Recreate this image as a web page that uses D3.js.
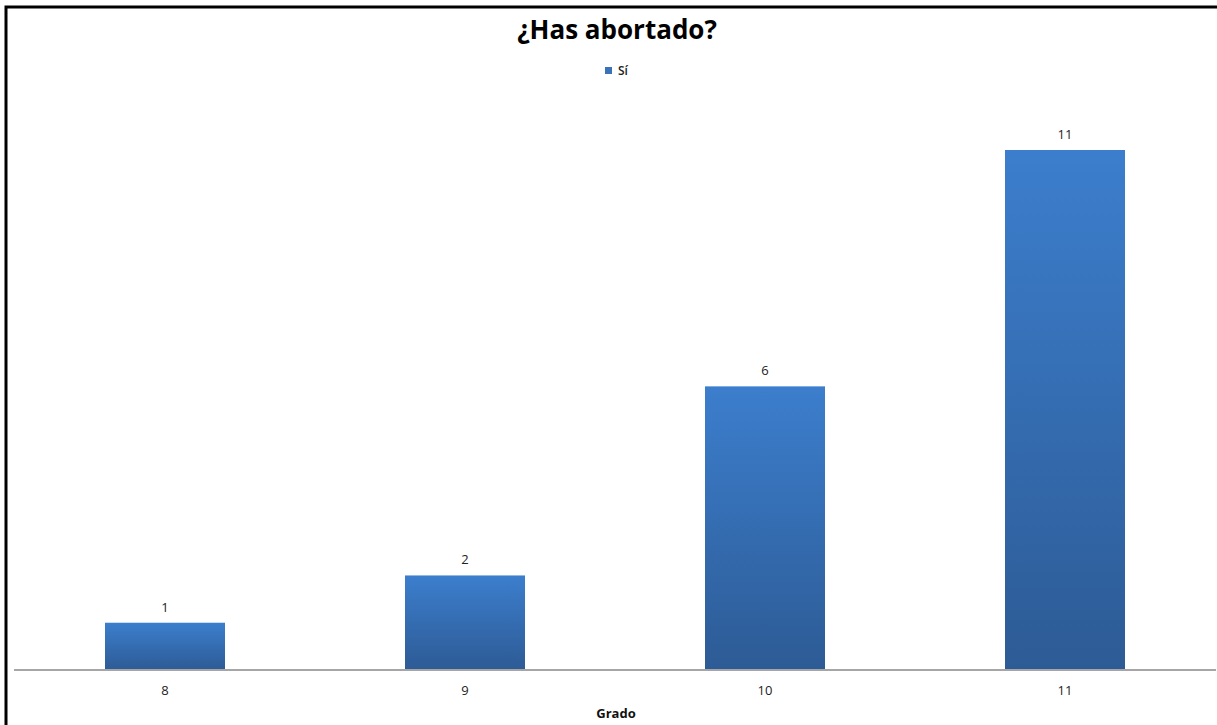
<!DOCTYPE html>
<html><head><meta charset="utf-8">
<script src="https://cdn.jsdelivr.net/npm/d3@7"></script>
<style>body{margin:0;background:#fff;}svg{display:block;}</style>
</head><body>
<script>
const categories = ["8", "9", "10", "11"];
const values = [1, 2, 6, 11];
const seriesName = "Sí";
const title = "¿Has abortado?";
const xTitle = "Grado";

const W = 1217, H = 725;
const svg = d3.select("body").append("svg").attr("width", W).attr("height", H);
const font = "'Open Sans', 'Noto Sans', sans-serif";

const defs = svg.append("defs");
const grad = defs.append("linearGradient").attr("id", "barGrad").attr("x1", 0).attr("y1", 0).attr("x2", 0).attr("y2", 1);
grad.append("stop").attr("offset", "0%").attr("stop-color", "#3c7ecd");
grad.append("stop").attr("offset", "100%").attr("stop-color", "#2d5b95");

// border
svg.append("path").attr("d", `M6,${H} L6,7 L${W},7`).attr("fill", "none").attr("stroke", "#000").attr("stroke-width", 3);

const x = d3.scaleBand().domain(categories).range([15, 1215]).paddingInner(0.6).paddingOuter(0.3);
const y = d3.scaleLinear().domain([0, 11]).range([670, 150]);

svg.selectAll("rect.bar").data(values).join("rect").attr("class", "bar")
  .attr("x", (d, i) => x(categories[i]))
  .attr("width", x.bandwidth())
  .attr("y", d => y(d))
  .attr("height", d => y(0) - y(d))
  .attr("fill", "url(#barGrad)");

svg.selectAll("text.val").data(values).join("text").attr("class", "val")
  .attr("x", (d, i) => x(categories[i]) + x.bandwidth() / 2)
  .attr("y", d => y(d) - 11)
  .attr("text-anchor", "middle")
  .attr("font-family", font).attr("font-size", 13).attr("fill", "#222")
  .text(d => d);

const xAxis = d3.axisBottom(x).tickSize(0).tickPadding(16);
const gx = svg.append("g").attr("transform", `translate(0,${y(0)})`).call(xAxis);
gx.select(".domain").attr("stroke", "#a6a6a6").attr("stroke-width", 2).attr("d", "M14,0H1216");
gx.selectAll("text").attr("font-family", font).attr("font-size", 13).attr("fill", "#222");

svg.append("text").attr("x", 616).attr("y", 718).attr("text-anchor", "middle")
  .attr("font-family", font).attr("font-weight", "bold").attr("font-size", 13).attr("fill", "#111").text(xTitle);

svg.append("text").attr("x", 617).attr("y", 39).attr("text-anchor", "middle")
  .attr("font-family", font).attr("font-weight", "bold").attr("font-size", 26).attr("fill", "#000").text(title);

const lg = svg.append("g");
lg.append("rect").attr("x", 605).attr("y", 67).attr("width", 7).attr("height", 7).attr("fill", "#3b72b8");
lg.append("text").attr("x", 618).attr("y", 75).attr("font-family", font).attr("font-weight", "600").attr("font-size", 12).attr("fill", "#222").text(seriesName);
</script>
</body></html>
